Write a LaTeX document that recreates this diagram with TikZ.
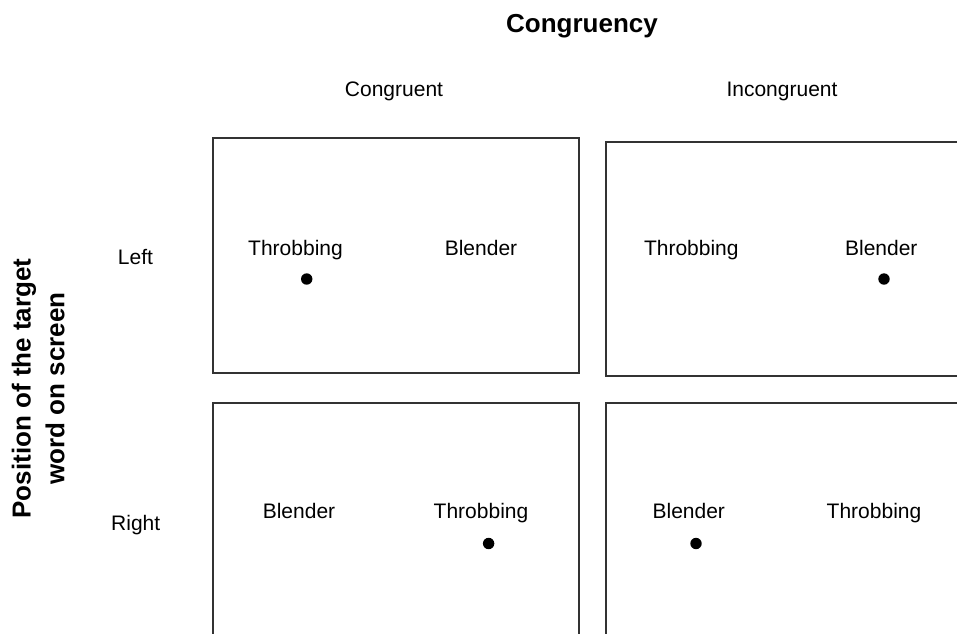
\documentclass[tikz,border=0pt]{standalone}
\usepackage{fontspec}
\setmainfont{Liberation Sans}
\usetikzlibrary{positioning}

\begin{document}
\begin{tikzpicture}[x=1pt,y=-1pt,
  panel/.style={draw=black!80,line width=1.3pt},
  word/.style={font=\fontsize{21}{25}\selectfont,anchor=base,inner sep=0pt},
  head/.style={font=\bfseries\fontsize{26}{33.6}\selectfont,inner sep=0pt}]
  \def\r{5.7}
  \clip(0,0)rectangle(957,633);
  \fill[white](0,0)rectangle(957,633);
  % headings
  \node[head,anchor=base](congruency)at(582,32){Congruency};
  \node[word](congruent)at(394,96.5){Congruent};
  \node[word](incongruent)at(782,96.5){Incongruent};
  \node[head,rotate=90,align=center](position)at(38.2,388.5){Position of the target\\word on screen};
  \node[word](left)at(135.5,264.3){Left};
  \node[word](right)at(135.7,530){Right};
  % panels
  \draw[panel](213,138)rectangle(579,373);
  \draw[panel](606,142)rectangle(975,376);
  \draw[panel](213,403)rectangle(579,650);
  \draw[panel](606,403)rectangle(975,650);
  % left, congruent
  \node[word](tlthrob)at(295.5,255.7){Throbbing};
  \node[word](tlblend)at(481,255.7){Blender};
  \fill(306.7,279)circle(\r);
  % left, incongruent
  \node[word](trthrob)at(691.3,255.5){Throbbing};
  \node[word](trblend)at(881.3,255.5){Blender};
  \fill(884,279)circle(\r);
  % right, congruent
  \node[word](blblend)at(299,518){Blender};
  \node[word](blthrob)at(481,518){Throbbing};
  \fill(488.6,543.5)circle(\r);
  % right, incongruent
  \node[word](brblend)at(688.8,518){Blender};
  \node[word](brthrob)at(874,518){Throbbing};
  \fill(696,543.5)circle(\r);
\end{tikzpicture}
\end{document}
